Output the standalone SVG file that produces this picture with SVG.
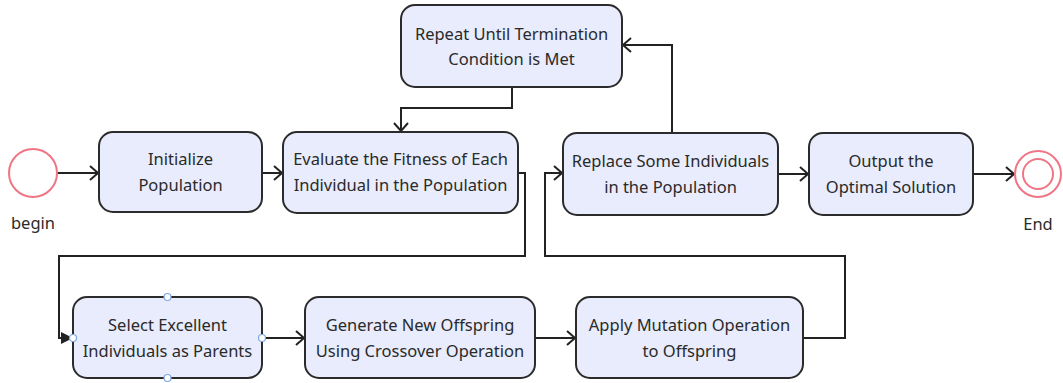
<svg xmlns="http://www.w3.org/2000/svg" width="1063" height="383" viewBox="0 0 1063 383">
<style>
.box{fill:#e8ecfc;stroke:#2b2b2b;stroke-width:2}
.t{font-family:"Noto Sans","Open Sans",sans-serif;font-size:16.5px;fill:#2a2a2a;text-anchor:middle}
.c{fill:none;stroke:#222;stroke-width:2}
.ev{fill:#fff;stroke:#f07585;stroke-width:2}
.h{fill:#fff;stroke:#7fa8e0;stroke-width:1.2}
</style>
<defs>
<marker id="a" markerUnits="userSpaceOnUse" markerWidth="14" markerHeight="16" refX="11" refY="8" orient="auto">
<path d="M3,1 L11,8 L3,15" fill="none" stroke="#222" stroke-width="2"/>
</marker>
<marker id="f" markerUnits="userSpaceOnUse" markerWidth="14" markerHeight="14" refX="12" refY="7" orient="auto">
<path d="M1,1 L13,7 L1,13 Z" fill="#222"/>
</marker>
</defs>
<g id="connectors">
<path class="c" d="M57,173 H98" marker-end="url(#a)"/>
<path class="c" d="M262,173 H282" marker-end="url(#a)"/>
<path class="c" d="M512,87 V108 H401 V131" marker-end="url(#a)"/>
<path class="c" d="M518,173 H525 V256 H59 V338 H72" marker-end="url(#f)"/>
<path class="c" d="M262,338 H304" marker-end="url(#a)"/>
<path class="c" d="M535,338 H575" marker-end="url(#a)"/>
<path class="c" d="M803,338 H845 V256 H545 V173 H562" marker-end="url(#a)"/>
<path class="c" d="M672,133 V45 H623" marker-end="url(#a)"/>
<path class="c" d="M778,174 H808" marker-end="url(#a)"/>
<path class="c" d="M973,174 H1014" marker-end="url(#a)"/>
</g>
<g id="begin">
<circle class="ev" cx="33" cy="173" r="24"/>
<text class="t" x="33" y="229">begin</text>
</g>
<g id="init">
<rect class="box" x="99" y="132" width="163" height="80" rx="14"/>
<text class="t" x="180.5" y="165">Initialize</text>
<text class="t" x="180.5" y="191">Population</text>
</g>
<g id="evaluate">
<rect class="box" x="283" y="132" width="235" height="81" rx="14"/>
<text class="t" x="400.5" y="165">Evaluate the Fitness of Each</text>
<text class="t" x="400.5" y="191">Individual in the Population</text>
</g>
<g id="repeat">
<rect class="box" x="401" y="5" width="221" height="82" rx="14"/>
<text class="t" x="511.5" y="40">Repeat Until Termination</text>
<text class="t" x="511.5" y="65">Condition is Met</text>
</g>
<g id="replace">
<rect class="box" x="563" y="133" width="215" height="82" rx="14"/>
<text class="t" x="670.5" y="167">Replace Some Individuals</text>
<text class="t" x="670.5" y="193">in the Population</text>
</g>
<g id="output">
<rect class="box" x="809" y="133" width="164" height="82" rx="14"/>
<text class="t" x="891" y="167">Output the</text>
<text class="t" x="891" y="193">Optimal Solution</text>
</g>
<g id="end">
<circle class="ev" cx="1038" cy="174" r="23"/>
<circle class="ev" cx="1038" cy="174" r="15"/>
<text class="t" x="1038" y="230">End</text>
</g>
<g id="select">
<rect class="box" x="73" y="297" width="189" height="81" rx="14"/>
<text class="t" x="167.5" y="331">Select Excellent</text>
<text class="t" x="167.5" y="357">Individuals as Parents</text>
<circle class="h" cx="167.5" cy="297" r="3.5"/>
<circle class="h" cx="167.5" cy="378" r="3.5"/>
<circle class="h" cx="73" cy="338" r="3.5"/>
<circle class="h" cx="262" cy="338" r="3.5"/>
</g>
<g id="generate">
<rect class="box" x="305" y="297" width="230" height="81" rx="14"/>
<text class="t" x="420" y="331">Generate New Offspring</text>
<text class="t" x="420" y="357">Using Crossover Operation</text>
</g>
<g id="mutation">
<rect class="box" x="576" y="297" width="227" height="81" rx="14"/>
<text class="t" x="689.5" y="331">Apply Mutation Operation</text>
<text class="t" x="689.5" y="357">to Offspring</text>
</g>
</svg>
